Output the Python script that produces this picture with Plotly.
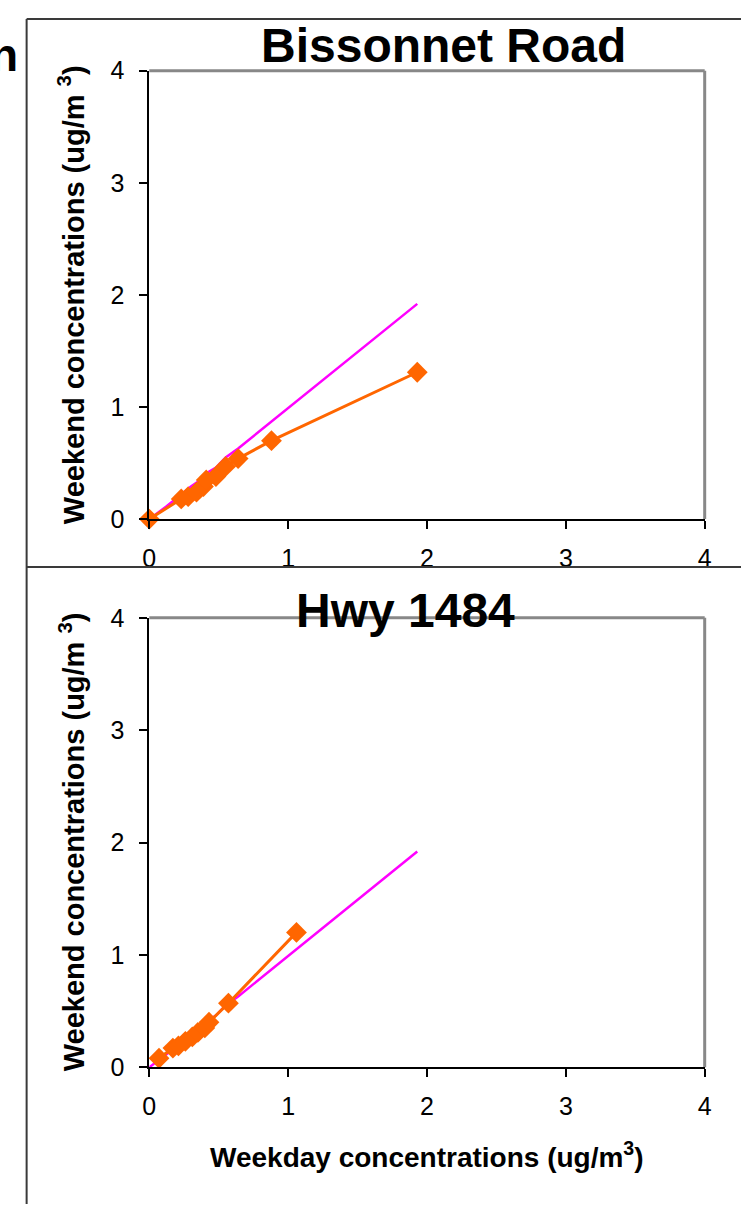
import plotly.graph_objects as go

# ---------------- data ----------------
bis_weekday = [0, 0.23, 0.28, 0.34, 0.39, 0.41, 0.48, 0.55, 0.64, 0.88, 1.93]
bis_weekend = [0, 0.18, 0.20, 0.24, 0.29, 0.35, 0.38, 0.47, 0.54, 0.70, 1.31]

hwy_weekday = [0.07, 0.17, 0.21, 0.26, 0.31, 0.35, 0.40, 0.43, 0.57, 1.06]
hwy_weekend = [0.08, 0.17, 0.19, 0.23, 0.27, 0.31, 0.35, 0.40, 0.57, 1.20]

ref_x = [0, 0.12, 0.23, 0.30, 0.37, 0.40, 0.48, 0.55, 0.64, 0.73, 0.88, 1.20, 1.55, 1.93]
ref_y = [0, 0.11, 0.22, 0.29, 0.35, 0.40, 0.46, 0.55, 0.63, 0.72, 0.87, 1.19, 1.54, 1.92]

tick_vals = [0, 1, 2, 3, 4]
tick_text = ["0", "1", "2", "3", "4"]

titles = ["Bissonnet Road", "Hwy 1484"]
y_title = "Weekend concentrations (ug/m <sup>3</sup>)"
x_title = "Weekday concentrations (ug/m<sup>3</sup>)"

# ---------------- layout helpers ----------------
W, H = 748, 1218
FONT = "Liberation Sans, Arial, Helvetica, sans-serif"
ORANGE = "#FF6600"
MAGENTA = "#FF00FF"


def px_x(v):
    return v / W


def px_y(v):
    return 1 - v / H


fig = go.Figure()

panels = [
    (bis_weekday, bis_weekend, "x", "y"),
    (hwy_weekday, hwy_weekend, "x2", "y2"),
]
for xs, ys, xa, ya in panels:
    fig.add_trace(go.Scatter(x=ref_x, y=ref_y, mode="lines",
                             line=dict(color=MAGENTA, width=2.5),
                             xaxis=xa, yaxis=ya, cliponaxis=False,
                             showlegend=False, hoverinfo="skip"))
    fig.add_trace(go.Scatter(x=xs, y=ys, mode="lines+markers",
                             line=dict(color=ORANGE, width=3),
                             marker=dict(symbol="diamond", size=16, color=ORANGE),
                             xaxis=xa, yaxis=ya, cliponaxis=False,
                             showlegend=False))

axis_common = dict(range=[0, 4], tickvals=tick_vals, ticktext=tick_text,
                   showgrid=False, zeroline=False, showline=True,
                   linecolor="black", linewidth=2,
                   ticks="outside", ticklen=8, tickwidth=1.5, tickcolor="black",
                   tickfont=dict(family=FONT, size=25, color="black"),
                   fixedrange=True)

xdom = [px_x(145), px_x(711)]
fig.update_layout(
    width=W, height=H,
    margin=dict(l=0, r=0, t=0, b=0),
    paper_bgcolor="white", plot_bgcolor="white",
    showlegend=False,
    xaxis=dict(domain=xdom, anchor="y", ticklabelstandoff=8, **axis_common),
    yaxis=dict(domain=[px_y(517), px_y(58)], anchor="x", ticklabelstandoff=10, **axis_common),
    xaxis2=dict(domain=xdom, anchor="y2", ticklabelstandoff=8, **axis_common),
    yaxis2=dict(domain=[px_y(1078), px_y(618)], anchor="x2", ticklabelstandoff=10, **axis_common),
)

shapes = []
# gray plot-area borders (top and right)
for xr, yr in [("x domain", "y domain"), ("x2 domain", "y2 domain")]:
    shapes.append(dict(type="line", xref=xr, yref=yr, x0=0, x1=1, y0=1, y1=1,
                       line=dict(color="#888888", width=3), layer="below"))
    shapes.append(dict(type="line", xref=xr, yref=yr, x0=1, x1=1, y0=0, y1=1,
                       line=dict(color="#888888", width=3), layer="below"))
# outer frame lines
frame = dict(color="#3a3a3a", width=2)
shapes.append(dict(type="line", xref="paper", yref="paper",
                   x0=px_x(20), x1=1, y0=px_y(5), y1=px_y(5), line=frame))
shapes.append(dict(type="line", xref="paper", yref="paper",
                   x0=px_x(20), x1=px_x(20), y0=0, y1=px_y(5), line=frame))
shapes.append(dict(type="line", xref="paper", yref="paper",
                   x0=px_x(20), x1=1, y0=px_y(566), y1=px_y(566), line=frame))
fig.update_layout(shapes=shapes)

ann = []
bold = dict(family=FONT, color="black", weight="bold")
ann.append(dict(text=titles[0], x=px_x(445), y=px_y(32), xref="paper", yref="paper",
                xanchor="center", yanchor="middle", showarrow=False,
                font=dict(size=48, **bold)))
ann.append(dict(text=titles[1], x=px_x(406), y=px_y(611), xref="paper", yref="paper",
                xanchor="center", yanchor="middle", showarrow=False,
                font=dict(size=48, **bold)))
ann.append(dict(text="n", x=px_x(13), y=px_y(42), xref="paper", yref="paper",
                xanchor="right", yanchor="middle", showarrow=False,
                font=dict(size=46, **bold)))
for yc in [287, 847]:
    ann.append(dict(text=y_title, x=px_x(66), y=px_y(yc), xref="paper", yref="paper",
                    xanchor="center", yanchor="middle", textangle=-90, showarrow=False,
                    font=dict(size=29, **bold)))
ann.append(dict(text=x_title, x=px_x(428), y=px_y(1168), xref="paper", yref="paper",
                xanchor="center", yanchor="middle", showarrow=False,
                font=dict(size=28, **bold)))
fig.update_layout(annotations=ann)

fig.write_html("out.html",
               config={"displayModeBar": False},
               post_script="document.body.style.margin='0';document.body.style.overflow='hidden';")
